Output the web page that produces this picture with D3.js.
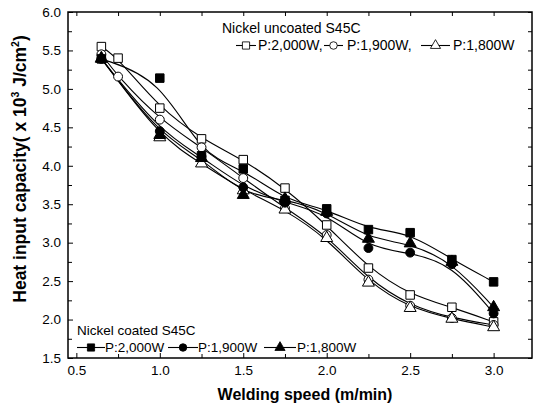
<!DOCTYPE html>
<html>
<head>
<meta charset="utf-8">
<script src="https://cdn.jsdelivr.net/npm/d3@7"></script>
<style>
  body { margin: 0; background: #fff; }
  text { font-family: Arial, "Liberation Sans", sans-serif; fill: #000; }
</style>
</head>
<body>
<div id="chart"></div>
<script>
// welding speeds (m/min)
var speedsLong = [0.65, 0.75, 1.0, 1.25, 1.5, 1.75, 2.0, 2.25, 2.5, 2.75, 3.0];
var speedsShort = [0.65, 1.0, 1.25, 1.5, 1.75, 2.0, 2.25, 2.5, 2.75, 3.0];

// Nickel uncoated S45C (open markers)
var uncoated2000 = [5.55, 5.40, 4.75, 4.35, 4.08, 3.71, 3.23, 2.67, 2.32, 2.16, 1.97];
var uncoated1900 = [5.45, 5.16, 4.60, 4.24, 3.84, 3.45, 3.10, 2.52, 2.18, 2.02, 1.93];
var uncoated1800 = [5.40, 4.37, 4.03, 3.68, 3.43, 3.06, 2.48, 2.15, 2.01, 1.90];

// Nickel coated S45C (filled markers)
var coated2000 = [5.39, 5.14, 4.13, 3.96, 3.55, 3.44, 3.17, 3.13, 2.78, 2.49];
var coated1900 = [5.39, 4.45, 4.12, 3.72, 3.52, 3.38, 2.93, 2.87, 2.72, 2.08];
var coated1800 = [5.39, 4.40, 4.10, 3.62, 3.57, 3.40, 3.05, 2.99, 2.75, 2.16];

var xTicks = [0.5, 1.0, 1.5, 2.0, 2.5, 3.0];
var yTicks = [1.5, 2.0, 2.5, 3.0, 3.5, 4.0, 4.5, 5.0, 5.5, 6.0];
var xMinor = [0.75, 1.25, 1.75, 2.25, 2.75];
var yMinor = [1.75, 2.25, 2.75, 3.25, 3.75, 4.25, 4.75, 5.25, 5.75];

var series = [
  { xs: speedsLong,  ys: uncoated2000, shape: "square",   fill: "#fff" },
  { xs: speedsLong,  ys: uncoated1900, shape: "circle",   fill: "#fff" },
  { xs: speedsShort, ys: uncoated1800, shape: "triangle", fill: "#fff" },
  { xs: speedsShort, ys: coated1900,   shape: "circle",   fill: "#000" },
  { xs: speedsShort, ys: coated1800,   shape: "triangle", fill: "#000" },
  { xs: speedsShort, ys: coated2000,   shape: "square",   fill: "#000" }
];

var width = 535, height = 409;
var pLeft = 68, pRight = 532, pTop = 12, pBottom = 358;

var svg = d3.select("#chart").append("svg")
  .attr("width", width)
  .attr("height", height);

var x = d3.scaleLinear().domain([0.45, 3.23]).range([pLeft, pRight]);
var y = d3.scaleLinear().domain([1.5, 6.0]).range([pBottom, pTop]);

var symbols = {
  square: d3.symbol().type(d3.symbolSquare).size(72),
  circle: d3.symbol().type(d3.symbolCircle).size(62),
  triangle: d3.symbol().type(d3.symbolTriangle).size(62)
};

// frame
svg.append("rect")
  .attr("x", pLeft).attr("y", pTop)
  .attr("width", pRight - pLeft).attr("height", pBottom - pTop)
  .attr("fill", "none").attr("stroke", "#000").attr("stroke-width", 1.5);

// axes, ticks pointing inward
svg.append("g").attr("transform", "translate(0," + pBottom + ")")
  .call(d3.axisBottom(x).tickValues(xTicks).tickSize(-5).tickPadding(7)
    .tickFormat(d3.format(".1f")));
svg.append("g").attr("transform", "translate(0," + pBottom + ")")
  .call(d3.axisBottom(x).tickValues(xMinor).tickSize(-4).tickFormat(""));
svg.append("g").attr("transform", "translate(0," + pTop + ")")
  .call(d3.axisTop(x).tickValues(xTicks.concat(xMinor)).tickSize(-4).tickFormat(""));

svg.append("g").attr("transform", "translate(" + pLeft + ",0)")
  .call(d3.axisLeft(y).tickValues(yTicks).tickSize(-5).tickPadding(7)
    .tickFormat(d3.format(".1f")));
svg.append("g").attr("transform", "translate(" + pLeft + ",0)")
  .call(d3.axisLeft(y).tickValues(yMinor).tickSize(-4).tickFormat(""));
svg.append("g").attr("transform", "translate(" + pRight + ",0)")
  .call(d3.axisRight(y).tickValues(yTicks.concat(yMinor)).tickSize(-4).tickFormat(""));

svg.selectAll(".domain").remove();
svg.selectAll(".tick line").attr("stroke", "#000");
svg.selectAll(".tick text")
  .style("font-size", "13.5px")
  .style("font-family", "Arial, 'Liberation Sans', sans-serif")
  .attr("fill", "#000");

// curves
var line = d3.line()
  .x(function(d) { return x(d[0]); })
  .y(function(d) { return y(d[1]); })
  .curve(d3.curveBasis);

series.forEach(function(s) {
  var pts = s.xs.map(function(v, i) { return [v, s.ys[i]]; });
  svg.append("path")
    .datum(pts)
    .attr("d", line)
    .attr("fill", "none")
    .attr("stroke", "#000")
    .attr("stroke-width", 1.1);
});

series.forEach(function(s) {
  var pts = s.xs.map(function(v, i) { return [v, s.ys[i]]; });
  svg.append("g").selectAll("path")
    .data(pts)
    .enter()
    .append("path")
      .attr("d", symbols[s.shape])
      .attr("transform", function(d) { return "translate(" + x(d[0]) + "," + y(d[1]) + ")"; })
      .attr("fill", s.fill)
      .attr("stroke", "#000")
      .attr("stroke-width", 1);
});

// legends
var legendTop = [
  { x1: 236, x2: 256, label: "P:2,000W,", tx: 258, shape: "square" },
  { x1: 324, x2: 343, label: "P:1,900W,", tx: 347, shape: "circle" },
  { x1: 421, x2: 450, label: "P:1,800W", tx: 453, shape: "triangle" }
];
var legendBottom = [
  { x1: 77, x2: 105, label: "P:2,000W", tx: 105, shape: "square" },
  { x1: 168, x2: 198, label: "P:1,900W", tx: 198, shape: "circle" },
  { x1: 264, x2: 296, label: "P:1,800W", tx: 297, shape: "triangle" }
];

function drawLegend(title, tx, ty, items, ly, fill, fs) {
  svg.append("text")
    .attr("x", tx).attr("y", ty)
    .style("font-size", fs)
    .text(title);
  items.forEach(function(it) {
    svg.append("line")
      .attr("x1", it.x1).attr("x2", it.x2)
      .attr("y1", ly - 4.5).attr("y2", ly - 4.5)
      .attr("stroke", "#000").attr("stroke-width", 1.1);
    svg.append("path")
      .attr("d", symbols[it.shape])
      .attr("transform", "translate(" + ((it.x1 + it.x2) / 2) + "," + (ly - 4.5) + ") scale(0.85)")
      .attr("fill", fill)
      .attr("stroke", "#000");
    svg.append("text")
      .attr("x", it.tx).attr("y", ly)
      .style("font-size", fs)
      .text(it.label);
  });
}

drawLegend("Nickel uncoated S45C", 222, 33, legendTop, 50, "#fff", "14px");
drawLegend("Nickel coated S45C", 77, 335, legendBottom, 352, "#000", "13.5px");

// axis titles
svg.append("text")
  .attr("x", 305).attr("y", 400)
  .attr("text-anchor", "middle")
  .style("font-size", "16px")
  .style("font-weight", "bold")
  .text("Welding speed (m/min)");

var yt = svg.append("text")
  .attr("transform", "translate(26,169) rotate(-90)")
  .attr("text-anchor", "middle")
  .style("font-size", "17.5px")
  .style("font-weight", "bold");
yt.append("tspan").text("Heat input capacity( x 10");
yt.append("tspan").attr("dy", -7).style("font-size", "10.5px").text("3");
yt.append("tspan").attr("dy", 7).text(" J/cm");
yt.append("tspan").attr("dy", -7).style("font-size", "10.5px").text("2");
yt.append("tspan").attr("dy", 7).text(")");
</script>
</body>
</html>
